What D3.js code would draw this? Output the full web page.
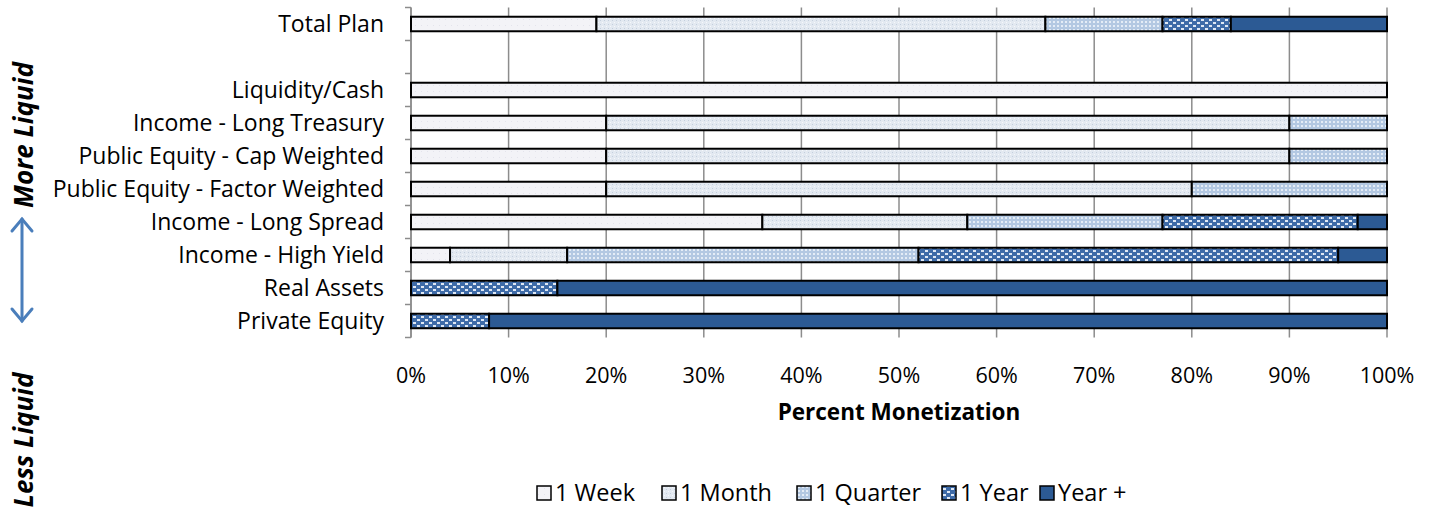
<!DOCTYPE html>
<html>
<head>
<meta charset="utf-8">
<script src="https://cdn.jsdelivr.net/npm/d3@7"></script>
<style>
  body { margin: 0; background: #fff; }
  text { font-family: "Open Sans", "Liberation Sans", sans-serif; fill: #000; }
</style>
</head>
<body>
<script>
// categories top to bottom ("" is the empty spacer row)
var categories = ["Total Plan", "", "Liquidity/Cash", "Income - Long Treasury",
  "Public Equity - Cap Weighted", "Public Equity - Factor Weighted",
  "Income - Long Spread", "Income - High Yield", "Real Assets", "Private Equity"];
var seriesNames = ["1 Week", "1 Month", "1 Quarter", "1 Year", "Year +"];

// percent of each category by monetization horizon
var week    = [19, 0, 100, 20, 20, 20, 36,  4,  0,  0];
var month   = [46, 0,   0, 70, 70, 60, 21, 12,  0,  0];
var quarter = [12, 0,   0, 10, 10, 20, 20, 36,  0,  0];
var year    = [ 7, 0,   0,  0,  0,  0, 20, 43, 15,  8];
var yearPlus= [16, 0,   0,  0,  0,  0,  3,  5, 85, 92];

var xTicks = [0, 10, 20, 30, 40, 50, 60, 70, 80, 90, 100];

var width = 1434, height = 508;
var plotL = 411, plotR = 1387, plotT = 7.5, plotB = 337.5;

var svg = d3.select("body").append("svg")
    .attr("width", width).attr("height", height);

// fill patterns
var defs = svg.append("defs");
function pat(id, w, h, bg, draw) {
  var p = defs.append("pattern").attr("id", id)
      .attr("patternUnits", "userSpaceOnUse").attr("width", w).attr("height", h);
  p.append("rect").attr("width", w).attr("height", h).attr("fill", bg);
  draw(p);
}
pat("p0", 6, 6, "#f3f3f7", function(p) {
  p.append("rect").attr("x", 1).attr("y", 1).attr("width", 1).attr("height", 1).attr("fill", "#e4e4ec");
});
pat("p1", 4, 4, "#e3e9f1", function(p) {
  p.append("rect").attr("x", 0).attr("y", 0).attr("width", 1).attr("height", 1).attr("fill", "#c4cfdd");
  p.append("rect").attr("x", 2).attr("y", 2).attr("width", 1).attr("height", 1).attr("fill", "#f6f8fb");
});
pat("p2", 4, 4, "#b3c8e2", function(p) {
  p.append("rect").attr("x", 1).attr("y", 1).attr("width", 2).attr("height", 2).attr("fill", "#e4ecf6");
});
pat("p3", 8, 6, "#3e6ba8", function(p) {
  p.append("rect").attr("x", 1).attr("y", 1).attr("width", 3).attr("height", 2).attr("fill", "#dfe8f4");
  p.append("rect").attr("x", 5).attr("y", 4).attr("width", 3).attr("height", 2).attr("fill", "#dfe8f4");
});
var fills = ["url(#p0)", "url(#p1)", "url(#p2)", "url(#p3)", "#2c5a94"];

var x = d3.scaleLinear().domain([0, 100]).range([plotL, plotR]);
var y = d3.scaleBand().domain(d3.range(categories.length)).range([plotT, plotB])
    .paddingInner(0.56).paddingOuter(0.28);

// gridlines
svg.append("g").selectAll("line").data(xTicks).join("line")
    .attr("x1", d => x(d)).attr("x2", d => x(d))
    .attr("y1", plotT).attr("y2", plotB)
    .attr("stroke", "#8c8c8c").attr("stroke-width", 1.5);

// left axis line and ticks between categories
var step = (plotB - plotT) / categories.length;
svg.append("line").attr("x1", plotL).attr("x2", plotL).attr("y1", plotT).attr("y2", plotB)
    .attr("stroke", "#8c8c8c").attr("stroke-width", 1.5);
svg.append("g").selectAll("line").data(d3.range(categories.length + 1)).join("line")
    .attr("x1", plotL - 6).attr("x2", plotL)
    .attr("y1", d => plotT + d * step).attr("y2", d => plotT + d * step)
    .attr("stroke", "#8c8c8c").attr("stroke-width", 1.5);

// stacked bars
var table = categories.map(function(c, i) {
  return { cat: i, "1 Week": week[i], "1 Month": month[i], "1 Quarter": quarter[i],
           "1 Year": year[i], "Year +": yearPlus[i] };
});
var stack = d3.stack().keys(seriesNames)(table);

svg.append("g").selectAll("g").data(stack).join("g")
    .attr("fill", (d, i) => fills[i])
  .selectAll("rect").data(d => d.filter(e => e[1] - e[0] > 0)).join("rect")
    .attr("x", d => x(d[0]))
    .attr("y", d => y(d.data.cat))
    .attr("width", d => x(d[1]) - x(d[0]))
    .attr("height", y.bandwidth())
    .attr("stroke", "#000").attr("stroke-width", 2);

// category labels
svg.append("g").selectAll("text").data(categories).join("text")
    .attr("x", plotL - 27)
    .attr("y", (d, i) => y(i) + y.bandwidth() / 2)
    .attr("dy", "0.35em")
    .attr("text-anchor", "end")
    .attr("font-size", 23)
    .text(d => d);

// x tick labels
svg.append("g").selectAll("text").data(xTicks).join("text")
    .attr("x", d => x(d)).attr("y", 383)
    .attr("text-anchor", "middle")
    .attr("font-size", 21.5)
    .text(d => d + "%");

svg.append("text").attr("x", (plotL + plotR) / 2).attr("y", 420)
    .attr("text-anchor", "middle").attr("font-size", 22.5).attr("font-weight", "bold")
    .text("Percent Monetization");

// legend
var legendX = [537, 662, 797, 942, 1040];
var lg = svg.append("g").selectAll("g").data(seriesNames).join("g")
    .attr("transform", (d, i) => "translate(" + legendX[i] + ",493)");
lg.append("rect").attr("x", 0).attr("y", -7).attr("width", 14).attr("height", 14)
    .attr("fill", (d, i) => fills[i]).attr("stroke", "#000").attr("stroke-width", 1.5);
lg.append("text").attr("x", 18).attr("dy", "0.35em").attr("font-size", 23.5).text(d => d);

// liquidity side annotation
svg.append("text").attr("transform", "translate(33,135) rotate(-90)")
    .attr("text-anchor", "middle").attr("font-size", 26)
    .attr("font-weight", "bold").attr("font-style", "italic")
    .text("More Liquid");
svg.append("text").attr("transform", "translate(33,440) rotate(-90)")
    .attr("text-anchor", "middle").attr("font-size", 26)
    .attr("font-weight", "bold").attr("font-style", "italic")
    .text("Less Liquid");

var arrow = svg.append("g").attr("stroke", "#4a7ebb").attr("stroke-width", 3)
    .attr("fill", "none").attr("stroke-linecap", "round");
arrow.append("line").attr("x1", 22).attr("x2", 22).attr("y1", 219).attr("y2", 321);
arrow.append("polyline").attr("points", "12,231 22,219 32,231");
arrow.append("polyline").attr("points", "12,309 22,321 32,309");
</script>
</body>
</html>
